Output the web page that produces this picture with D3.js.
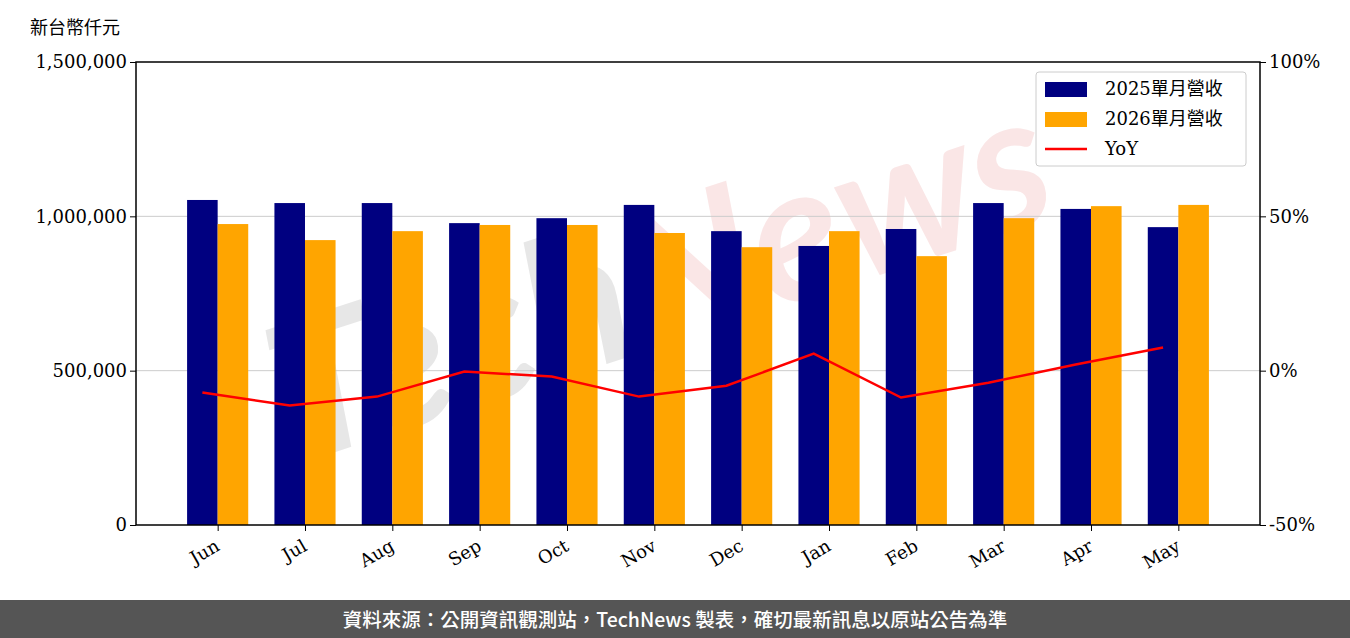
<!DOCTYPE html><html><head><meta charset="utf-8"><script src="https://d3js.org/d3.v7.min.js"></script>
<style>body{margin:0;background:#fff}</style></head><body><svg id="c" width="1350" height="638"></svg><script>
const months=["Jun","Jul","Aug","Sep","Oct","Nov","Dec","Jan","Feb","Mar","Apr","May"];
const rev2025=[1053000,1043000,1043000,978000,994000,1037000,952000,904000,959000,1043000,1024000,965000];
const rev2026=[975000,923000,952000,972000,972000,946000,900000,952000,871000,994000,1033000,1037000];
const yoy=[-7.1,-11.3,-8.4,-0.3,-1.9,-8.4,-4.9,5.5,-8.7,-3.9,2.0,7.5];
const leftTicks=[0,500000,1000000,1500000];
const rightTicks=[-50,0,50,100];
const svg=d3.select("#c");
const L=136,R=1260,T=62,B=525,bw=0.35;
const x=d3.scaleLinear().domain([-0.76,12.11]).range([L,R]);
const y=d3.scaleLinear().domain([0,1500000]).range([B,T]);
const y2=d3.scaleLinear().domain([-50,100]).range([B,T]);
const serif="'DejaVu Serif','Noto Sans CJK TC',serif";
const wm=svg.append("text").attr("x",680).attr("y",340).attr("text-anchor","middle").attr("transform","rotate(-18,680,340)")
 .attr("font-family","Lato,sans-serif").attr("font-weight","bold").attr("font-style","italic").attr("font-size",190).attr("opacity",0.35);
wm.append("tspan").attr("fill","#bbbbbb").text("Tech");
wm.append("tspan").attr("fill","#f2b8b8").text("News");
svg.selectAll(".g").data([500000,1000000]).join("line").attr("x1",L).attr("x2",R).attr("y1",d=>y(d)).attr("y2",d=>y(d)).attr("stroke","#ccc");
const w=x(bw)-x(0);
svg.selectAll(".b1").data(rev2025).join("rect").attr("x",(d,i)=>x(i-bw/2)).attr("width",w).attr("y",d=>y(d)).attr("height",d=>B-y(d)).attr("fill","#000080");
svg.selectAll(".b2").data(rev2026).join("rect").attr("x",(d,i)=>x(i+bw/2)).attr("width",w).attr("y",d=>y(d)).attr("height",d=>B-y(d)).attr("fill","#FFA500");
svg.append("path").datum(yoy).attr("d",d3.line().x((d,i)=>x(i)).y(d=>y2(d))).attr("fill","none").attr("stroke","red").attr("stroke-width",2.5);
svg.append("rect").attr("x",L).attr("y",T).attr("width",R-L).attr("height",B-T).attr("fill","none").attr("stroke","#000").attr("stroke-width",1.5);
const ax=svg.append("g").attr("transform",`translate(${L},0)`).call(d3.axisLeft(y).tickValues(leftTicks).tickFormat(d3.format(",")).tickSizeOuter(0));
const ax2=svg.append("g").attr("transform",`translate(${R},0)`).call(d3.axisRight(y2).tickValues(rightTicks).tickFormat(d=>d+"%").tickSizeOuter(0));
const ax3=svg.append("g").attr("transform",`translate(0,${B})`).call(d3.axisBottom(x).tickValues(months.map((m,i)=>i+bw/2)).tickFormat((d,i)=>months[i]).tickSizeOuter(0));
[ax,ax2,ax3].forEach(a=>{a.select(".domain").remove();a.selectAll("text").attr("font-family",serif).attr("font-size",18).attr("fill","#000");});
ax3.selectAll("text").attr("text-anchor","end").attr("x",-10).attr("y",10).attr("dy","0.7em").attr("transform","rotate(-30)");
svg.append("text").attr("x",30).attr("y",34).attr("font-family","'Noto Sans CJK TC',sans-serif").attr("font-size",18).text("新台幣仟元");
const lg=svg.append("g");
lg.append("rect").attr("x",1036).attr("y",72).attr("width",210).attr("height",94).attr("fill","#fff").attr("fill-opacity",0.8).attr("stroke","#ccc").attr("rx",3);
const items=[["2025單月營收","#000080","bar"],["2026單月營收","#FFA500","bar"],["YoY","red","line"]];
items.forEach((it,i)=>{const cy=89+i*30;
 if(it[2]=="bar")lg.append("rect").attr("x",1045).attr("y",cy-7).attr("width",42).attr("height",15).attr("fill",it[1]);
 else lg.append("line").attr("x1",1045).attr("x2",1087).attr("y1",cy).attr("y2",cy).attr("stroke",it[1]).attr("stroke-width",2.5);
 lg.append("text").attr("x",1105).attr("y",cy+6).attr("font-family",serif).attr("font-size",18).text(it[0]);});
svg.append("rect").attr("x",0).attr("y",600).attr("width",1350).attr("height",38).attr("fill","#555");
svg.append("text").attr("x",675).attr("y",627).attr("text-anchor","middle").attr("fill","#fff").attr("font-family","'Noto Sans CJK TC',sans-serif").attr("font-weight","500").attr("font-size",19.5).text("資料來源：公開資訊觀測站，TechNews 製表，確切最新訊息以原站公告為準");
</script></body></html>
